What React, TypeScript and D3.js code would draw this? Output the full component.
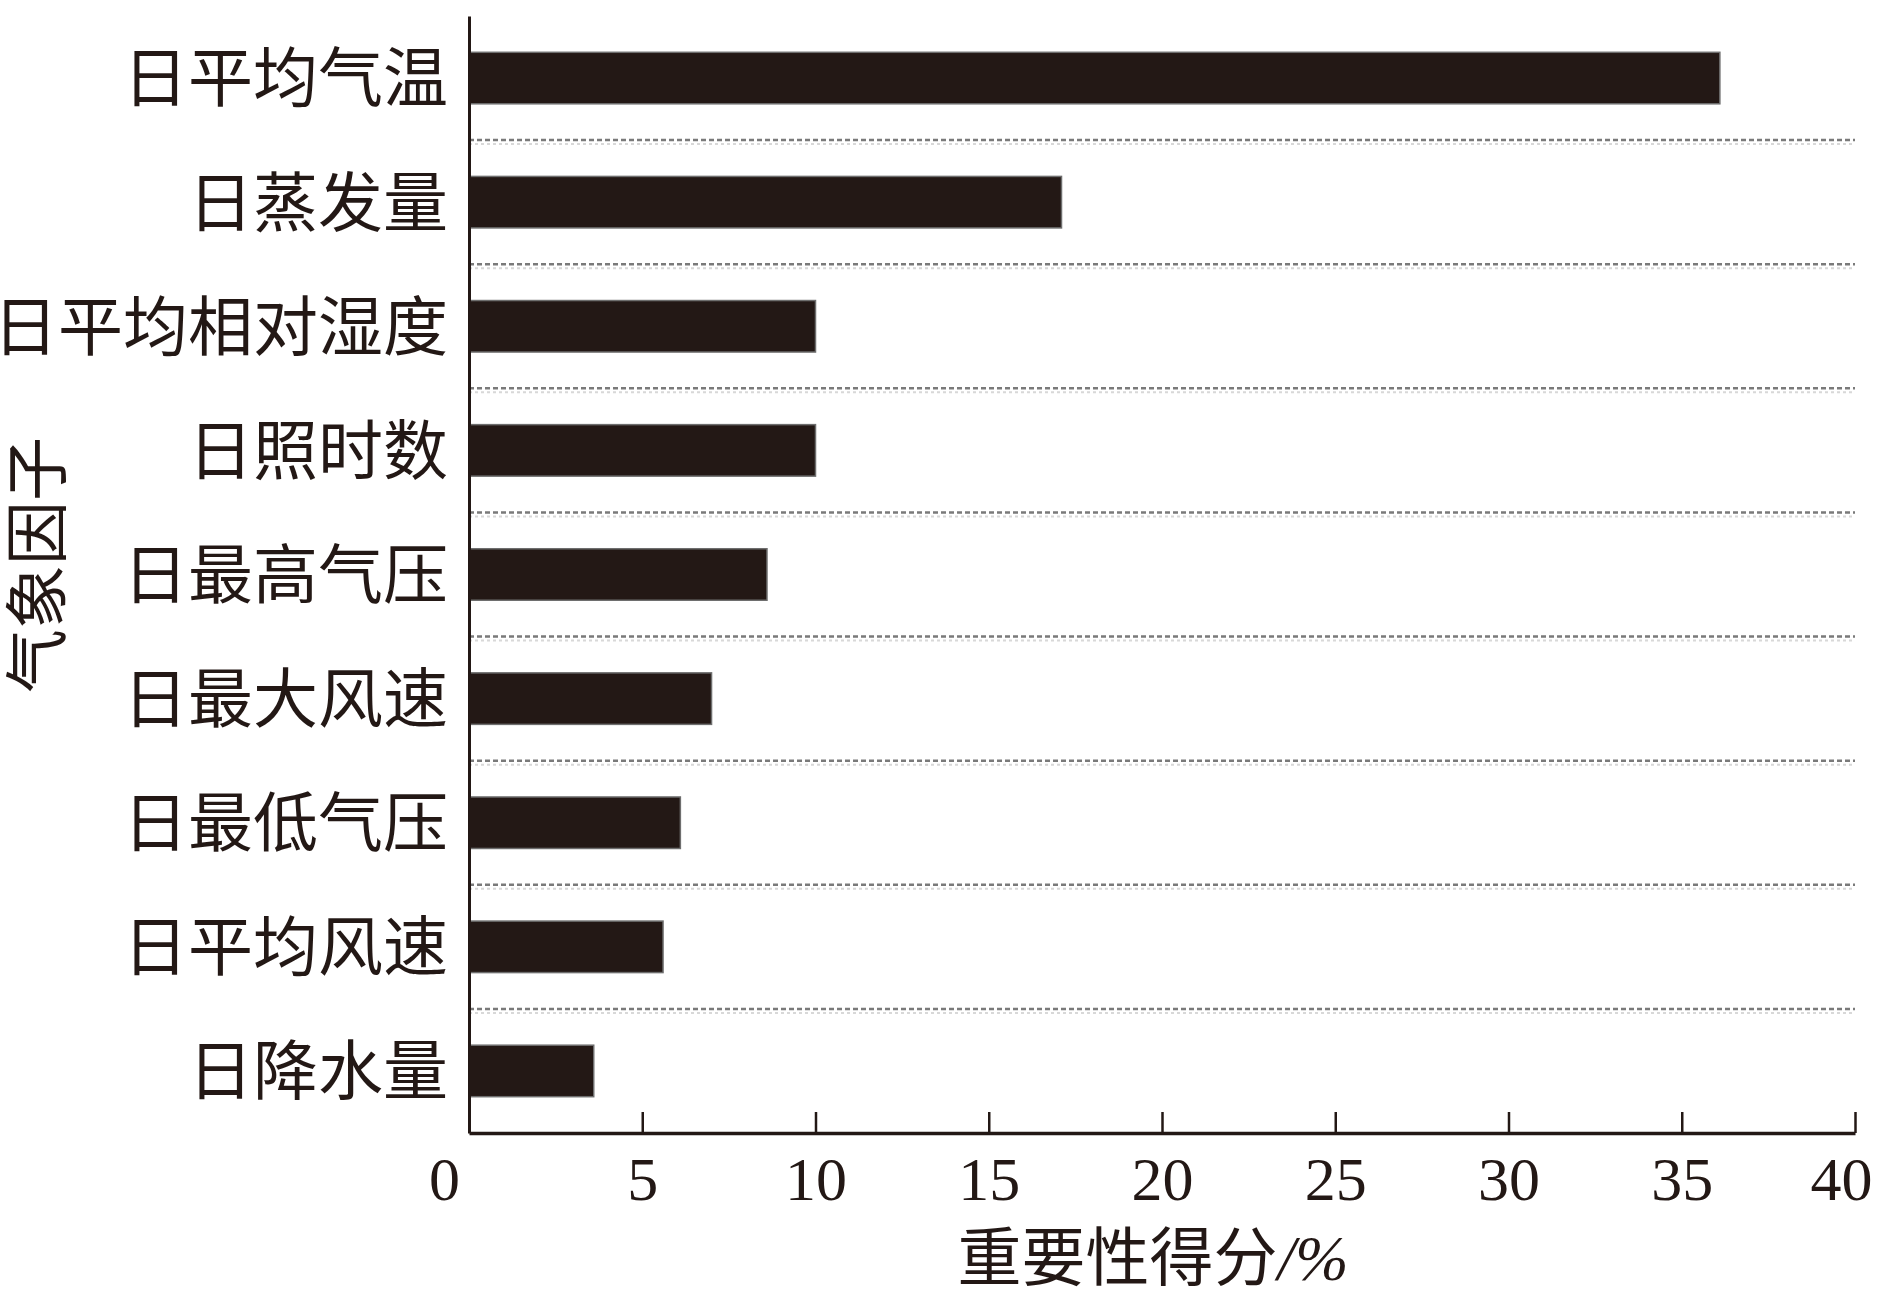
import * as d3 from "d3";
import { useEffect, useRef } from "react";

const factors = [
  "日平均气温",
  "日蒸发量",
  "日平均相对湿度",
  "日照时数",
  "日最高气压",
  "日最大风速",
  "日最低气压",
  "日平均风速",
  "日降水量",
];
const scores = [36.1, 17.1, 10.0, 10.0, 8.6, 7.0, 6.1, 5.6, 3.6];
const xTicks = [0, 5, 10, 15, 20, 25, 30, 35, 40];

const W = 1901;
const H = 1292;
const INK = "#231815";
const CJK = "'Noto Sans CJK SC', sans-serif";
const SERIF = "'Liberation Serif', 'Times New Roman', serif";

export default function App() {
  const ref = useRef<SVGSVGElement | null>(null);
  useEffect(() => {
    if (!ref.current) return;
    const svg = d3.select(ref.current);
    svg.selectAll("*").remove();

    const left = 469;
    const right = 1855;
    const top = 16;
    const bottom = 1133;

    const x = d3.scaleLinear().domain([0, 40]).range([left, right]);
    const y = d3
      .scaleBand<string>()
      .domain(factors)
      .range([top, bottom])
      .paddingInner(0.585)
      .paddingOuter(0.2925);

    // dotted separators between categories
    const seps = factors.slice(1).map((f) => (y(f) ?? 0) - (y.step() - y.bandwidth()) / 2);
    const g = svg.append("g");
    g.selectAll("line.sep")
      .data(seps)
      .enter()
      .append("line")
      .attr("x1", left)
      .attr("x2", right)
      .attr("y1", (d) => d)
      .attr("y2", (d) => d)
      .attr("stroke", "#7a7a7a")
      .attr("stroke-width", 2.5)
      .attr("stroke-dasharray", "5 3");
    g.selectAll("line.sep2")
      .data(seps)
      .enter()
      .append("line")
      .attr("x1", left)
      .attr("x2", right)
      .attr("y1", (d) => d + 4)
      .attr("y2", (d) => d + 4)
      .attr("stroke", "#d8d8d8")
      .attr("stroke-width", 2)
      .attr("stroke-dasharray", "3 3");

    svg.append("g")
      .selectAll("rect")
      .data(scores)
      .enter()
      .append("rect")
      .attr("x", x(0))
      .attr("y", (_, i) => y(factors[i]) ?? 0)
      .attr("width", (d) => x(d) - x(0))
      .attr("height", y.bandwidth())
      .attr("fill", INK)
      .attr("stroke", "#6e6e6e")
      .attr("stroke-width", 1.5);

    const xa = svg
      .append("g")
      .attr("transform", `translate(0,${bottom})`)
      .call(d3.axisBottom(x).tickValues(xTicks).tickSize(-21).tickSizeOuter(0));
    xa.select(".domain").attr("stroke", INK).attr("stroke-width", 3.5);
    xa.selectAll(".tick line").attr("stroke", INK).attr("stroke-width", 2.5);
    xa.selectAll<SVGTextElement, number>(".tick text")
      .attr("y", 67)
      .attr("dy", 0)
      .attr("dx", (d) => (d === 0 ? -25 : d === 40 ? -14 : 0))
      .attr("fill", INK)
      .attr("font-family", SERIF)
      .attr("font-size", 62);

    const ya = svg
      .append("g")
      .attr("transform", `translate(${left},0)`)
      .call(d3.axisLeft(y).tickSize(0).tickSizeOuter(0).tickPadding(21));
    ya.select(".domain").attr("stroke", INK).attr("stroke-width", 3);
    ya.selectAll(".tick text")
      .attr("dy", "0.36em")
      .attr("fill", INK)
      .attr("font-family", CJK)
      .attr("font-size", 65);

    svg.append("text")
      .attr("transform", "translate(37,565) rotate(-90)")
      .attr("text-anchor", "middle")
      .attr("dy", "0.36em")
      .attr("fill", INK)
      .attr("font-family", CJK)
      .attr("font-size", 64)
      .text("气象因子");

    const xt = svg
      .append("text")
      .attr("x", 1153)
      .attr("y", 1280)
      .attr("text-anchor", "middle")
      .attr("fill", INK)
      .attr("font-family", CJK)
      .attr("font-size", 64);
    xt.append("tspan").text("重要性得分");
    xt.append("tspan").attr("font-family", SERIF).attr("font-style", "italic").text("/%");
  }, []);
  return (
    <svg
      ref={ref}
      width={W}
      height={H}
      viewBox={`0 0 ${W} ${H}`}
      style={{ position: "absolute", left: 0, top: 0, background: "#fff" }}
    />
  );
}
